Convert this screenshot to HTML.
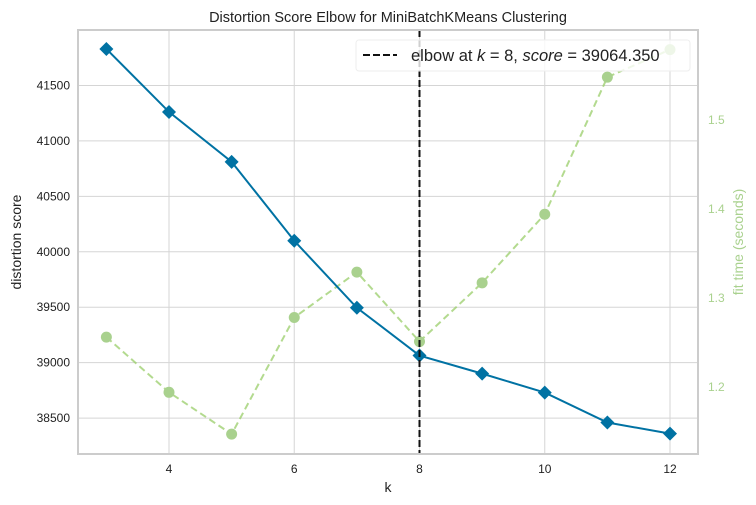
<!DOCTYPE html>
<html><head><meta charset="utf-8"><style>
body{margin:0;background:#fff;}
svg{display:block;font-family:"Liberation Sans",sans-serif;}
</style></head><body>
<svg id="chart" width="756" height="505">
<text x="388" y="22" text-anchor="middle" font-size="14.5" fill="#222">Distortion Score Elbow for MiniBatchKMeans Clustering</text>
<g id="grid"></g>
<g id="series"></g>
<rect x="78" y="30" width="620" height="424" fill="none" stroke="#ccc" stroke-width="2"/>
<text x="388" y="492" text-anchor="middle" font-size="14" fill="#222">k</text>
<text transform="translate(21,242) rotate(-90)" text-anchor="middle" font-size="14" fill="#222">distortion score</text>
<text transform="translate(743,242) rotate(-90)" text-anchor="middle" font-size="14" fill="#a9d18e">fit time (seconds)</text>
<g>
<rect x="356" y="40" width="334" height="31" rx="3" fill="#fff" fill-opacity="0.8" stroke="#eee"/>
<line x1="363" y1="55" x2="397" y2="55" stroke="#111" stroke-width="2" stroke-dasharray="7,3"/>
<text x="411" y="61" font-size="16.5" fill="#222">elbow at <tspan font-style="italic">k</tspan> = 8, <tspan font-style="italic">score</tspan> = 39064.350</text>
</g>
</svg>
<script>
const ks=[3,4,5,6,7,8,9,10,11,12];
const distortion=[41829,41261,40811,40099,39495,39064,38901,38730,38460,38360];
const fitTime=[1.256,1.194,1.147,1.278,1.329,1.251,1.317,1.394,1.548,1.579];
const xTicks=[4,6,8,10,12];
const yTicks=[38500,39000,39500,40000,40500,41000,41500];
const y2Ticks=[1.2,1.3,1.4,1.5];
const elbowK=8;
const NS="http://www.w3.org/2000/svg";
const L=78,R=698,T=30,B=454;
const xs=k=>169+(k-4)*62.625;
const ys=v=>B-(v-38176)/(42000-38176)*(B-T);
const ys2=v=>B-(v-1.1247)/(1.601-1.1247)*(B-T);
function el(tag,attrs,parent){const e=document.createElementNS(NS,tag);for(const k in attrs)e.setAttribute(k,attrs[k]);parent.appendChild(e);return e;}
const grid=document.getElementById('grid'),ser=document.getElementById('series');
xTicks.forEach(t=>{
 const l=el('line',{x1:xs(t),x2:xs(t),y1:T,y2:B,stroke:'#d5d5d5','stroke-width':1},grid);
 
 
 const tx=el('text',{x:xs(t),y:B+19,'text-anchor':'middle','font-size':12,fill:'#222'},grid);tx.textContent=t;
 
 
});
yTicks.forEach(t=>{
 const l=el('line',{x1:L,x2:R,y1:ys(t),y2:ys(t),stroke:'#d5d5d5','stroke-width':1},grid);
 
 
 const tx=el('text',{x:L-8,y:ys(t)+4,'text-anchor':'end','font-size':12,fill:'#222'},grid);tx.textContent=t;
 
 
});
y2Ticks.forEach(t=>{
 const tx=el('text',{x:708,y:ys2(t)+4,'font-size':12,fill:'#a9d18e'},grid);tx.textContent=t.toFixed(1);
 
 
});
const fl=el('polyline',{points:ks.map((k,i)=>xs(k)+','+ys2(fitTime[i])).join(' '),fill:'none',stroke:'#9acd6a','stroke-opacity':0.75,'stroke-width':2,'stroke-dasharray':'7,4'},ser);


ks.forEach((k,i)=>{const c=el('circle',{cx:xs(k),cy:ys2(fitTime[i]),r:5.5,fill:'#a9d18e'},ser);
 
 });
const dl=el('polyline',{points:ks.map((k,i)=>xs(k)+','+ys(distortion[i])).join(' '),fill:'none',stroke:'#0072a3','stroke-width':2},ser);


ks.forEach((k,i)=>{const x=xs(k),y=ys(distortion[i]);
 const p=el('polygon',{points:`${x},${y-7} ${x+7},${y} ${x},${y+7} ${x-7},${y}`,fill:'#0072a3'},ser);
 
 });
const ev=el('line',{x1:xs(elbowK),x2:xs(elbowK),y1:T,y2:B,stroke:'#111','stroke-width':2,'stroke-dasharray':'7,3'},ser);


</script>
</body></html>
